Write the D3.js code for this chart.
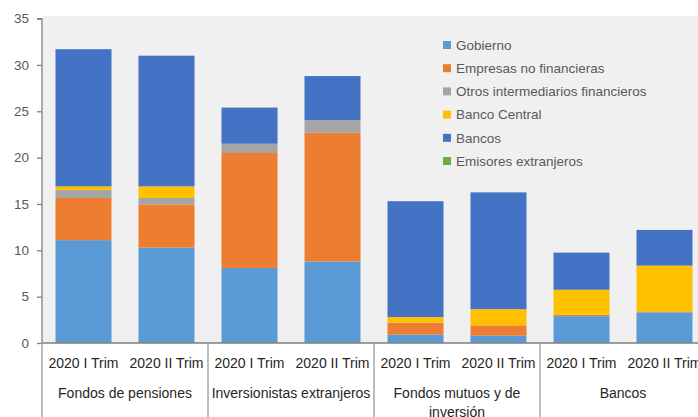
<!DOCTYPE html>
<html><head><meta charset="utf-8">
<script src="https://cdn.jsdelivr.net/npm/d3@7"></script>
<style>body{margin:0;background:#fff}svg{display:block}</style>
</head><body>
<script>
const groups = ["Fondos de pensiones","Inversionistas extranjeros","Fondos mutuos y de inversión","Bancos"];
const periods = ["2020 I Trim","2020 II Trim"];
const seriesNames = ["Gobierno","Empresas no financieras","Otros intermediarios financieros","Banco Central","Bancos","Emisores extranjeros"];
const gobierno   = [11.1, 10.3, 8.1, 8.8, 0.9, 0.8, 2.9, 3.3];
const empresas   = [4.55, 4.65, 12.4, 13.9, 1.3, 1.1, 0.15, 0.1];
const otros      = [0.85, 0.7, 1.0, 1.35, 0.0, 0.0, 0.0, 0.0];
const bcentral   = [0.4, 1.25, 0.0, 0.0, 0.6, 1.75, 2.7, 4.95];
const bancos     = [14.8, 14.1, 3.9, 4.75, 12.5, 12.6, 4.0, 3.85];
const emisores   = [0, 0, 0, 0, 0, 0, 0, 0];
const yTicks = [0,5,10,15,20,25,30,35];
const colors = ["#5B9BD5","#ED7D31","#A5A5A5","#FFC000","#4472C4","#70AD47"];

const W = 698, H = 417;
const svg = d3.select("body").append("svg").attr("width", W).attr("height", H);
const font = "'Liberation Sans', Arial, sans-serif";
const textCol = "#595959";

const cats = [];
groups.forEach((g,gi)=>periods.forEach((p,pi)=>cats.push({key:gi+"-"+pi, g, p, gi})));
const seriesData = [gobierno, empresas, otros, bcentral, bancos, emisores];
const rows = cats.map((c,i)=>{const r={key:c.key}; seriesNames.forEach((s,si)=>r[s]=seriesData[si][i]); return r;});

const x = d3.scaleBand().domain(cats.map(c=>c.key)).range([42, 706]).paddingInner(0.325).paddingOuter(0.1625);
const y = d3.scaleLinear().domain([0,35]).range([343, 18.6]);

// plot area background
svg.append("rect").attr("x",43).attr("y",16).attr("width",W-43).attr("height",343-16).attr("fill","#f0f0f0");

const stack = d3.stack().keys(seriesNames)(rows);
svg.append("g").selectAll("g").data(stack).join("g")
  .attr("fill",(d,i)=>colors[i])
  .selectAll("rect").data(d=>d).join("rect")
  .attr("x",d=>x(d.data.key)).attr("width",x.bandwidth())
  .attr("y",d=>y(d[1])).attr("height",d=>Math.max(0,y(d[0])-y(d[1])));

// y axis
const yAxis = svg.append("g").attr("transform","translate(42,0)")
  .call(d3.axisLeft(y).tickValues(yTicks).tickSize(5).tickPadding(8));
yAxis.select(".domain").attr("stroke","#7f7f7f").attr("stroke-width",1.3).attr("d","M-5,"+y(35)+"H0V"+y(0));
yAxis.selectAll(".tick line").attr("stroke","#7f7f7f").attr("stroke-width",1.3);
yAxis.selectAll(".tick text").attr("fill",textCol).style("font-family",font).style("font-size","13.5px");

// x axis baseline
svg.append("line").attr("x1",42).attr("x2",W).attr("y1",343).attr("y2",343).attr("stroke","#7f7f7f").attr("stroke-width",1.3);

// group separators
const step = x.step();
const bounds = groups.map((g,gi)=>x(gi+"-0") - x.paddingOuter()*step).concat([x(groups.length-1+"-1")+x.bandwidth()+x.paddingOuter()*step]);
svg.append("g").selectAll("line").data(bounds).join("line")
  .attr("x1",d=>d).attr("x2",d=>d).attr("y1",343).attr("y2",H)
  .attr("stroke","#9a9a9a").attr("stroke-width",1.3);

// period labels
svg.append("g").selectAll("text").data(cats).join("text")
  .attr("x",d=>x(d.key)+x.bandwidth()/2).attr("y",368)
  .attr("text-anchor","middle").attr("fill","#262626")
  .style("font-family",font).style("font-size","14px").text(d=>d.p);

// group labels
const glabels = [["Fondos de pensiones"],["Inversionistas extranjeros"],["Fondos mutuos y de","inversión"],["Bancos"]];
groups.forEach((g,gi)=>{
  const cx = (bounds[gi]+bounds[gi+1])/2;
  const t = svg.append("text").attr("x",cx).attr("y",398).attr("text-anchor","middle").attr("fill","#262626")
    .style("font-family",font).style("font-size","14px");
  glabels[gi].forEach((line,li)=>t.append("tspan").attr("x",cx).attr("dy",li?19:0).text(line));
});

// legend
const lg = svg.append("g").attr("transform","translate(443,45)");
seriesNames.forEach((s,i)=>{
  const r = lg.append("g").attr("transform","translate(0,"+(i*23.2)+")");
  r.append("rect").attr("x",0).attr("y",-4).attr("width",8).attr("height",8).attr("fill",colors[i]);
  r.append("text").attr("x",13).attr("y",0).attr("dy","0.35em").attr("fill",textCol)
    .style("font-family",font).style("font-size","13.5px").text(s);
});
</script>
</body></html>
